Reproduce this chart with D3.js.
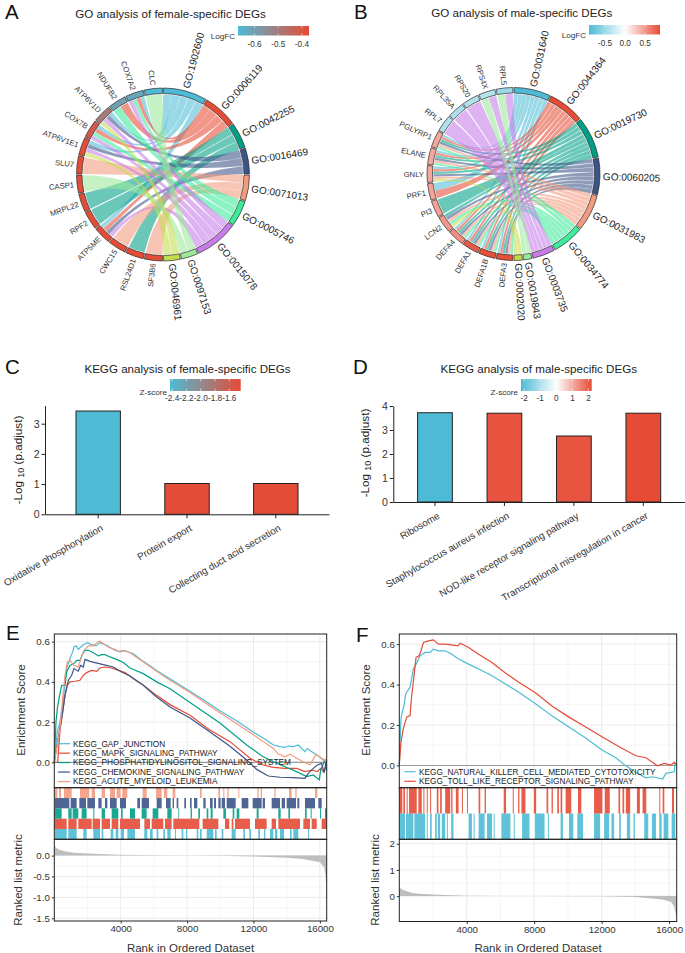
<!DOCTYPE html>
<html><head><meta charset="utf-8">
<script src="https://cdnjs.cloudflare.com/ajax/libs/d3/7.8.5/d3.min.js"></script>
<style>html,body{margin:0;padding:0;background:#fff}svg{display:block}text{font-family:"Liberation Sans",Arial,sans-serif}</style>
</head><body><div id="c"></div>
<script>
// ---------- data ----------
const termColors=["#4DBBD5","#E64B35","#00A087","#3C5488","#F39B7F","#3DEB9A","#C77CE8","#9BE89B","#C5DC4A"];
const termsA=["GO:1902600","GO:0006119","GO:0042255","GO:0016469","GO:0071013","GO:0005746","GO:0015078","GO:0097153","GO:0046961"];
const genesA=["SF3B6","RSL24D1","CWC15","ATP5ME","RPF2","MRPL22","CASP1","SLU7","ATP6V1E1","COX7B","ATP6V1D","NDUFB2","COX7A2","CLC"];
const linksA=[[4],[2],[4],[0,1,3,6],[2],[2],[7],[4],[0,3,6,8],[0,1,5,6],[0,3,6,8],[1,5],[0,1,5,6],[7]];
const fcA=[-0.375,-0.375,-0.375,-0.375,-0.375,-0.375,-0.375,-0.375,-0.38,-0.41,-0.5,-0.6,-0.62,-0.67];
const fcTicksA=[-0.6,-0.5,-0.4];
const termsB=["GO:0031640","GO:0044364","GO:0019730","GO:0060205","GO:0031983","GO:0034774","GO:0003735","GO:0019843","GO:0002020"];
const genesB=["DEFA3","DEFA1B","DEFA1","DEFA4","LCN2","PI3","PRF1","GNLY","ELANE","PGLYRP1","RPL7","RPL35A","RPS20","RPS4X","RPL5"];
const linksB=[[0,1,2,3,4,5],[0,1,2,3,4,5],[0,1,2,3,4,5],[0,1,2,3,4,5],[2,3,4,5,8],[2],[0,1],[0,1,2,3,4,8],[0,1,2,3,4,5],[0,1,2,3,4,5],[6],[6],[6],[6,7],[6,7]];
const fcB=[0.85,0.85,0.8,0.55,0.5,0.45,0.45,0.42,0.42,0.42,-0.4,-0.42,-0.4,-0.38,-0.5];
const fcTicksB=[-0.5,0,0.5];
const catsC=["Oxidative phosphorylation","Protein export","Collecting duct acid secretion"];
const valsC=[3.42,1.02,1.02];
const zC=[-2.42,-1.46,-1.46];
const zTicksC=[-2.4,-2.2,-2.0,-1.8,-1.6];
const catsD=["Ribosome","Staphylococcus aureus infection","NOD-like receptor signaling pathway","Transcriptional misregulation in cancer"];
const valsD=[3.72,3.70,2.75,3.70];
const zD=[-2.2,2.1,2.08,2.2];
const zTicksD=[-2,-1,0,1,2];
const setsE=["KEGG_GAP_JUNCTION","KEGG_MAPK_SIGNALING_PATHWAY","KEGG_PHOSPHATIDYLINOSITOL_SIGNALING_SYSTEM","KEGG_CHEMOKINE_SIGNALING_PATHWAY","KEGG_ACUTE_MYELOID_LEUKEMIA"];
const colorsE=["#4DBBD5","#E64B35","#00A087","#3C5488","#F39B7F"];
const esGap=[[1,0],[183,.154],[343,.2],[544,.317],[745,.466],[946,.516],[1106,.549],[1187,.574],[1307,.579],[1448,.562],[1709,.582],[1990,.595],[2251,.585],[2512,.579],[2753,.595],[3054,.585],[3355,.572],[3657,.557],[3958,.549],[4259,.555],[4761,.54],[5363,.502],[6167,.457],[6970,.416],[8175,.353],[9000,.31],[10000,.255],[11000,.205],[12000,.15],[12700,.115],[13200,.086],[13596,.078],[13897,.074],[14098,.081],[14400,.078],[14700,.086],[14900,.069],[15102,.053],[15242,.069],[15600,.048],[15900,.032],[16307,.003],[16410,0]];
const esMapk=[[1,0],[200,.0],[343,.154],[504,.25],[645,.333],[785,.383],[946,.4],[1247,.403],[1548,.408],[1749,.433],[1950,.446],[2251,.457],[2552,.452],[2753,.469],[3054,.474],[3456,.469],[3857,.457],[4259,.446],[4761,.416],[5363,.383],[6167,.333],[6970,.287],[8175,.234],[9300,.165],[10584,.103],[11789,.02],[12592,-.013],[13194,-.025],[13897,-.03],[14600,-.03],[15102,-.046],[15504,-.038],[15845,-.046],[16046,-.03],[16250,-.05],[16410,-.01]];
const esPhos=[[1,0],[102,.2],[183,.267],[303,.325],[444,.383],[645,.383],[745,.449],[946,.482],[1187,.491],[1347,.507],[1548,.507],[1709,.54],[1849,.557],[2050,.557],[2351,.545],[2653,.529],[2853,.535],[3054,.535],[3355,.524],[3757,.512],[4159,.496],[4560,.469],[5363,.441],[6167,.4],[6970,.366],[8175,.297],[10000,.194],[11588,.086],[12592,.028],[13194,.003],[13897,-.022],[14600,-.046],[15202,-.071],[15604,-.063],[15965,-.087],[16046,-.038],[16307,.011],[16410,-.04]];
const esChem=[[1,0],[303,.154],[504,.25],[645,.333],[845,.408],[1046,.433],[1187,.466],[1448,.453],[1588,.482],[1749,.474],[1849,.512],[2151,.502],[2452,.496],[2954,.486],[3556,.474],[4058,.449],[4560,.429],[5363,.383],[6167,.325],[6970,.275],[8175,.221],[9400,.15],[10584,.08],[11588,.012],[12190,-.035],[12893,-.068],[13596,-.074],[14400,-.076],[15102,-.08],[15300,-.055],[15604,-.03],[15845,-.013],[16106,-.005],[16247,-.05],[16407,.01]];
const esAml=[[1,0],[343,.167],[504,.317],[645,.433],[785,.499],[946,.507],[1187,.482],[1448,.474],[1649,.524],[1789,.557],[2050,.579],[2351,.579],[2653,.599],[2753,.602],[3054,.585],[3355,.569],[3657,.562],[3857,.552],[4159,.555],[4560,.545],[5363,.499],[6167,.453],[6970,.408],[8175,.347],[10000,.245],[11588,.16],[12592,.103],[13194,.069],[13496,.041],[13897,.028],[14198,.041],[14600,.02],[15002,.003],[15403,-.013],[15765,.041],[16106,.02],[16407,.003]];
const curvesE=[esGap,esMapk,esPhos,esChem,esAml];
const hitsGap=[[42,745],[845,1347],[1749,1950],[2351,2753],[2853,2954],[3395,3556],[3697,3857],[3998,4199],[4400,4861],[5424,5605],[5765,5926],[6167,6267],[6568,6669],[6809,7010],[7271,7331],[7672,7773],[7933,8014],[8577,8677],[8777,8878],[9179,9581],[9681,9781],[10083,10183],[10685,10926],[11388,11488],[11749,11850],[12291,12391],[12633,12713],[12994,13195],[13295,13436],[13597,13838],[14199,14299],[14400,14701],[15280,15340]];
const hitsMapk=[[2,745],[845,1347],[1448,2251],[2311,2753],[2853,3355],[3456,3857],[3958,5163],[5424,5765],[5865,6568],[6669,7070],[7170,8737],[8938,9882],[10283,10544],[10685,10786],[10886,11789],[12091,12793],[13095,13356],[13496,14801],[15002,15404],[15504,15806],[16107,16408]];
const hitsPhos=[[2,444],[845,1046],[1106,1448],[1649,1950],[2351,2412],[2853,3054],[3456,3857],[4018,4118],[4560,4861],[5263,5564],[5926,6267],[6809,7070],[7472,7512],[8215,8295],[8677,8777],[9179,9279],[9420,9540],[10183,10344],[10745,10846],[10986,11147],[12191,12311],[13496,13637],[14099,14199],[15102,15203],[15444,15504],[16006,16066],[16307,16408]];
const hitsChem=[[42,906],[986,1347],[1508,1910],[1990,2452],[2653,2853],[3054,3195],[3355,3757],[3958,4319],[5002,5163],[5263,5705],[6167,6468],[6729,7010],[7130,7211],[7371,7472],[7833,7934],[8175,8275],[8416,8617],[8978,9119],[9380,9540],[9621,9741],[9882,10022],[10083,10283],[10384,10926],[11287,11689],[11950,12492],[12553,12693],[13095,13596],[13697,13898],[13998,14560],[14640,14761],[15102,15705],[15906,16107]];
const hitsAml=[[42,183],[283,404],[584,1046],[1548,2110],[2251,2452],[2853,3054],[3355,3657],[3757,3998],[4098,4400],[5323,5564],[6126,6468],[6608,6809],[7130,7291],[8777,8878],[9882,9982],[10183,10243],[10424,10504],[11087,11147],[12231,12311],[12432,12512],[13255,13335],[14139,14299],[14520,14600],[15705,15846]];
const hitsE=[hitsGap,hitsMapk,hitsPhos,hitsChem,hitsAml];
const metricE=[[1,.27],[100,.19],[300,.14],[700,.1],[1200,.07],[2000,.05],[4000,.02],[6000,.007],[8000,0],[10000,-.005],[12000,-.02],[14000,-.05],[15000,-.08],[16000,-.16],[16250,-.28],[16350,-.5],[16400,-1.1],[16410,-1.5]];
const setsF=["KEGG_NATURAL_KILLER_CELL_MEDIATED_CYTOTOXICITY","KEGG_TOLL_LIKE_RECEPTOR_SIGNALING_PATHWAY"];
const colorsF=["#4DBBD5","#E64B35"];
const esNk=[[1,.002],[101,.231],[180,.264],[300,.305],[379,.354],[637,.387],[835,.477],[1034,.506],[1232,.542],[1530,.559],[1827,.559],[2026,.575],[2323,.567],[2720,.567],[3117,.55],[3514,.526],[4109,.501],[4803,.473],[5498,.444],[6291,.403],[7085,.362],[8077,.305],[9069,.244],[10060,.19],[11053,.136],[12044,.075],[12839,.038],[13434,-.002],[14028,-.034],[14624,-.061],[15021,-.056],[15616,-.067],[15814,-.039],[16310,-.031],[16350,.015]];
const esTlr=[[1,.002],[101,.116],[240,.182],[438,.239],[637,.247],[736,.346],[875,.444],[994,.534],[1172,.542],[1291,.567],[1430,.608],[1728,.616],[2026,.621],[2323,.6],[2720,.6],[3216,.595],[3474,.591],[3613,.604],[4109,.583],[4704,.55],[5498,.509],[6291,.457],[7085,.411],[8077,.359],[9069,.293],[10060,.239],[11053,.19],[12044,.141],[13037,.092],[14028,.048],[14624,.038],[15318,-.002],[15715,.01],[16112,.002],[16310,.015],[16450,.002]];
const curvesF=[esNk,esTlr];
const hitsNk=[[2,339],[399,835],[895,1530],[1629,1688],[1827,1926],[2125,2224],[2284,2422],[2522,2720],[2819,2879],[3077,3216],[4109,4307],[4406,4466],[4704,5061],[5200,5498],[5597,5656],[6053,6589],[6787,6847],[7283,7720],[8037,8613],[8811,8871],[9565,9704],[10061,10319],[10557,10895],[11549,11906],[12145,12442],[12581,12740],[13037,13137],[13494,13692],[13890,13970],[14525,14764],[14982,15220],[15418,15557],[15676,15954],[16152,16370]];
const hitsTlr=[[2,180],[240,339],[438,498],[577,1034],[1133,1331],[1430,1490],[1629,1688],[1827,1887],[2224,2323],[2422,2522],[2720,3018],[3077,3156],[3355,3514],[3712,3772],[4010,4069],[4704,4803],[5061,5140],[6192,6331],[6728,6787],[7045,7124],[7243,7482],[7977,8116],[8732,8831],[9030,9109],[9367,9466],[9565,9665],[9863,10200],[10597,10795],[11549,12045],[12184,12482],[12998,13097],[13236,13335],[13434,13692],[14089,14267],[14426,14645],[15418,15478],[15616,15716],[16172,16291]];
const hitsF=[hitsNk,hitsTlr];
const metricF=[[1,.36],[100,.28],[240,.23],[700,.13],[1200,.09],[2000,.06],[4000,.015],[8000,0],[12000,-.01],[14000,-.03],[15600,-.13],[16100,-.22],[16300,-.4],[16400,-.7],[16450,-.97]];
const rankTicks=[4000,8000,12000,16000];

// ---------- drawing ----------
const W=685,H=953,BLUE="#4DBBD5",RED="#E64B35",INK="#222",TXT="#333";
const svg=d3.select("#c").append("svg").attr("width",W).attr("height",H).attr("viewBox",[0,0,W,H]);
const defs=svg.append("defs");
let gid=0;
const hy=f=>v=>f(v).replace("\u2212","-");

function letter(t,x,y){svg.append("text").attr("x",x).attr("y",y).attr("font-size",20.5).attr("fill","#111").text(t);}
function title(t,cx,y,fs){svg.append("text").attr("x",cx).attr("y",y).attr("text-anchor","middle").attr("font-size",fs).attr("fill",INK).text(t);}

function colorbar(label,x0,x1,y0,y1,scale,ticks,fmt,labY){
  const id="g"+(gid++),dom=scale.domain();
  const bar=d3.scaleLinear().domain([dom[0],dom[dom.length-1]]).range([x0,x1]);
  const lg=defs.append("linearGradient").attr("id",id);
  d3.range(0,1.0001,0.05).forEach(t=>lg.append("stop").attr("offset",t).attr("stop-color",scale(bar.invert(x0+t*(x1-x0)))));
  svg.append("rect").attr("x",x0).attr("y",y0).attr("width",x1-x0).attr("height",y1-y0).attr("fill",`url(#${id})`);
  ticks.forEach(t=>{
    const x=bar(t),s=(y1-y0)/5;
    svg.append("path").attr("d",`M${x},${y0}v${s}M${x},${y1}v${-s}`).attr("stroke","#fff").attr("stroke-width",.6);
    svg.append("text").attr("x",x).attr("y",labY).attr("text-anchor","middle").attr("dy",".35em").attr("font-size",8.2).attr("fill",TXT).text(fmt(t));
  });
  svg.append("text").attr("x",x0-3).attr("y",y1+1).attr("text-anchor","end").attr("dy",".35em").attr("font-size",8.1).attr("fill",TXT).text(label);
}

function chord(cx,cy,terms,genes,links,fc,fcScale){
  const g=svg.append("g").attr("transform",`translate(${cx},${cy})`);
  const R1=86.5,R0=81,Rb=80;
  const counts=terms.map((_,i)=>d3.sum(links,l=>l.includes(i)?1:0));
  const total=d3.sum(counts),unit=Math.PI/total,gw=Math.PI/genes.length;
  const pad=0.007;
  const tStart=[];let acc=0;counts.forEach(c=>{tStart.push(acc);acc+=c*unit;});
  const termCursor=tStart.slice();
  const ribs=[];
  const assign={};
  for(let j=genes.length-1;j>=0;j--){
    links[j].forEach(i=>{assign[i+"_"+j]=termCursor[i];termCursor[i]+=unit;});
  }
  genes.forEach((_,j)=>{
    const s=Math.PI+j*gw,inner=links[j].slice().sort((a,b)=>b-a),w=(gw-2*pad)/inner.length;
    inner.forEach((i,k)=>{
      ribs.push({i,source:{startAngle:assign[i+"_"+j]+0.002,endAngle:assign[i+"_"+j]+unit-0.002,radius:Rb},
        target:{startAngle:s+pad+k*w,endAngle:s+pad+(k+1)*w-0.002,radius:Rb}});
    });
  });
  const ribbon=d3.ribbon();
  ribs.sort((a,b)=>a.i-b.i);
  g.append("g").selectAll("path").data(ribs).join("path").attr("d",ribbon).attr("fill",d=>termColors[d.i]).attr("fill-opacity",.58);
  const arc=d3.arc().innerRadius(R0).outerRadius(R1);
  const seg=(a,b,c)=>g.append("path").attr("d",arc({startAngle:a+pad,endAngle:b-pad})).attr("fill",c).attr("stroke","#2a2a2a").attr("stroke-width",.7);
  const deg=a=>a*180/Math.PI;
  const lab=(t,a,fs,col,r)=>{
    const d=deg(a),right=d<180;
    g.append("text").attr("transform",`rotate(${d-90}) translate(${r},0)`+(right?"":" rotate(180)"))
     .attr("text-anchor",right?"start":"end").attr("dy",".35em").attr("font-size",fs).attr("fill",col).text(t);
  };
  terms.forEach((t,i)=>{seg(tStart[i],tStart[i]+counts[i]*unit,termColors[i]);lab(t,tStart[i]+counts[i]*unit/2,10,INK,R1+3);});
  genes.forEach((t,j)=>{const s=Math.PI+j*gw;seg(s,s+gw,fcScale(fc[j]));lab(t,s+gw/2,7.7,TXT,R1+3);});
}

function barChart(cats,vals,zs,zScale,x0,x1,yZero,yTop,maxV,ticks,labX,labCy,pi,po){
  const x=d3.scaleBand().domain(cats).range([x0,x1]).paddingInner(pi).paddingOuter(po);
  const y=d3.scaleLinear().domain([0,maxV]).range([yZero,yTop]);
  svg.append("g").selectAll("rect").data(cats).join("rect")
    .attr("x",d=>x(d)).attr("width",x.bandwidth())
    .attr("y",(d,i)=>y(vals[i])).attr("height",(d,i)=>yZero-y(vals[i]))
    .attr("fill",(d,i)=>zScale(zs[i])).attr("stroke","#222").attr("stroke-width",1);
  const ax=svg.append("g").attr("transform",`translate(0,${yZero})`).call(d3.axisBottom(x).tickSize(4).tickPadding(3).tickSizeOuter(0));
  ax.select(".domain").attr("stroke","#222");ax.selectAll("line").attr("stroke","#222");
  ax.selectAll("text").attr("font-size",9.8).attr("font-family",'"Liberation Sans"').attr("fill",TXT).attr("text-anchor","end")
    .attr("transform","rotate(-30)").attr("x",-3).attr("y",13).attr("dy",".35em");
  const ay=svg.append("g").attr("transform",`translate(${x0},0)`).call(d3.axisLeft(y).tickValues(ticks).tickFormat(d3.format("d")).tickSize(3.5).tickPadding(2).tickSizeOuter(0));
  ay.select(".domain").attr("stroke","#222");ay.selectAll("line").attr("stroke","#222");
  ay.selectAll("text").attr("font-size",10.5).attr("font-family",'"Liberation Sans"').attr("fill",TXT);
  const t=svg.append("text").attr("transform",`translate(${labX},${labCy}) rotate(-90)`).attr("text-anchor","middle").attr("font-size",11.7).attr("fill",INK);
  t.append("tspan").text("-Log ");t.append("tspan").attr("font-size",9).attr("dy",2).text("10");t.append("tspan").attr("dy",-2).text(" (p.adjust)");
}

function gsea(px0,px1,xMax,yPlot,yRug,yBot,yEnd,esDom,esTicks,mDom,mTicks,mFmt,sets,colors,curves,hits,metric,legY,legX,legLine){
  const x=d3.scaleLinear().domain([1,xMax]).range([px0,px1]);
  const y=d3.scaleLinear().domain(esDom).range([yPlot,yRug]);
  const m=d3.scaleLinear().domain(mDom).range([yBot,yEnd]);
  const g=svg.append("g");
  const vGrid=d3.range(2000,16001,2000);
  function grid(yy,yTop,yBtm,maj,min){
    vGrid.forEach((v,i)=>g.append("line").attr("x1",x(v)).attr("x2",x(v)).attr("y1",yTop).attr("y2",yBtm).attr("stroke",i%2?"#ebebeb":"#f1f1f1").attr("stroke-width",i%2?1:.7));
    min.forEach(v=>g.append("line").attr("x1",px0).attr("x2",px1).attr("y1",yy(v)).attr("y2",yy(v)).attr("stroke","#f1f1f1").attr("stroke-width",.7));
    maj.forEach(v=>g.append("line").attr("x1",px0).attr("x2",px1).attr("y1",yy(v)).attr("y2",yy(v)).attr("stroke","#ebebeb").attr("stroke-width",1));
  }
  const mids=a=>d3.pairs(a).map(p=>(p[0]+p[1])/2);
  grid(y,yPlot,yRug,esTicks,mids(esTicks).concat([esTicks[0]-(esTicks[1]-esTicks[0])/2]).filter(v=>v>esDom[1]));
  grid(m,yBot,yEnd,mTicks,mids(mTicks));
  g.append("line").attr("x1",px0).attr("x2",px1).attr("y1",y(0)).attr("y2",y(0)).attr("stroke","#9a9a9a").attr("stroke-width",1.1);
  const line=d3.line().x(d=>x(d[0])).y(d=>y(d[1]));
  curves.forEach((c,i)=>g.append("path").attr("d",line(c)).attr("fill","none").attr("stroke",colors[i]).attr("stroke-width",1.2));
  sets.forEach((s,i)=>{
    const ly=legY[0]+i*legY[1];
    g.append("line").attr("x1",legLine[0]).attr("x2",legLine[1]).attr("y1",ly).attr("y2",ly).attr("stroke",colors[i]).attr("stroke-width",1.2);
    g.append("text").attr("x",legX).attr("y",ly).attr("dy",".35em").attr("font-size",8.25).attr("fill",INK).text(s);
  });
  const n=sets.length,rh=(yBot-yRug)/n;
  hits.forEach((h,i)=>{
    const ry=yRug+(n-1-i)*rh;
    g.append("g").selectAll("rect").data(h).join("rect").attr("x",d=>x(d[0])).attr("width",d=>Math.max(.8,x(d[1])-x(d[0])))
      .attr("y",ry).attr("height",rh).attr("fill",colors[i]).attr("fill-opacity",.9);
  });
  const area=d3.area().x(d=>x(d[0])).y0(m(0)).y1(d=>m(d[1]));
  g.append("path").attr("d",area(metric)).attr("fill","#bebebe");
  [[yPlot,yRug],[yRug,yBot],[yBot,yEnd]].forEach(r=>g.append("rect").attr("x",px0).attr("y",r[0]).attr("width",px1-px0).attr("height",r[1]-r[0]).attr("fill","none").attr("stroke","#222").attr("stroke-width",1));
  const ax=svg.append("g").attr("transform",`translate(0,${yEnd})`).call(d3.axisBottom(x).tickValues(rankTicks).tickFormat(d3.format("d")).tickSize(2.5).tickPadding(2));
  ax.select(".domain").remove();
  const ay=svg.append("g").attr("transform",`translate(${px0},0)`).call(d3.axisLeft(y).tickValues(esTicks).tickFormat(d3.format(".1f")).tickSize(2.5).tickPadding(2));
  ay.select(".domain").remove();
  const am=svg.append("g").attr("transform",`translate(${px0},0)`).call(d3.axisLeft(m).tickValues(mTicks).tickFormat(hy(mFmt)).tickSize(2.5).tickPadding(2));
  am.select(".domain").remove();
  [ax,ay,am].forEach(a=>{a.selectAll("text").attr("font-size",9.7).attr("font-family",'"Liberation Sans"').attr("fill",TXT);a.selectAll("line").attr("stroke","#333");});
  svg.append("text").attr("x",(px0+px1)/2).attr("y",951.5).attr("text-anchor","middle").attr("font-size",11.5).attr("fill",TXT).text("Rank in Ordered Dataset");
}
function yLab(t,x,cy){svg.append("text").attr("transform",`translate(${x},${cy}) rotate(-90)`).attr("text-anchor","middle").attr("font-size",11.5).attr("fill",TXT).text(t);}

// A
letter("A",5,18.6);title("GO analysis of female-specific DEGs",170.5,17.5,11.6);
const fcScaleA=d3.scaleLinear().domain([-0.67,-0.37]).range([BLUE,RED]);
colorbar("LogFC",238,309,26,35.5,fcScaleA,fcTicksA,hy(d3.format(".1f")),44);
chord(163,174.5,termsA,genesA,linksA,fcA,fcScaleA);
// B
letter("B",354,18.6);title("GO analysis of male-specific DEGs",521.7,17,11.6);
const fcScaleB=d3.scaleLinear().domain([-0.9,0,0.87]).range([BLUE,"#ffffff",RED]);
colorbar("LogFC",589,660,25,34.5,fcScaleB,fcTicksB,hy(d3.format(".1f")),43);
chord(513.5,174,termsB,genesB,linksB,fcB,fcScaleB);
// C
letter("C",5,373.5);title("KEGG analysis of female-specific DEGs",187.5,373,11.6);
const zScaleC=d3.scaleLinear().domain([-2.43,-1.44]).range([BLUE,RED]);
colorbar("Z-score",170,240.7,379,391,zScaleC,zTicksC,hy(d3.format(".1f")),398);
barChart(catsC,valsC,zC,zScaleC,45,329,514.3,405.6,3.6,[0,1,2,3],22,460,.5,.349);
// D
letter("D",353,373.5);title("KEGG analysis of male-specific DEGs",538.8,373,11.6);
const zScaleD=d3.scaleLinear().domain([-2.2,0,2.2]).range([BLUE,"#ffffff",RED]);
colorbar("Z-score",521,591.7,379,391,zScaleD,zTicksD,hy(d3.format("d")),398);
barChart(catsD,valsD,zD,zScaleD,393.3,685,502,406,4,[0,1,2,3,4],369,453,.5,.35);
// E
letter("E",6,640);
gsea(54.3,326.7,16410,634,787.7,839.3,921,[.638,-.126],[0,.2,.4,.6],[.39,-1.565],[-1.5,-1,-.5,0],d3.format(".1f"),setsE,colorsE,curvesE,hitsE,metricE,[743.7,9.45],73,[58,70]);
yLab("Enrichment Score",25,710);yLab("Ranked list metric",22,880);
// F
letter("F",356,642);
gsea(399.3,676.7,16450,634,787.7,839.3,921.5,[.65,-.11],[0,.2,.4,.6],[2.17,-.97],[0,1,2],d3.format("d"),setsF,colorsF,curvesF,hitsF,metricF,[771.7,9.6],419,[404.3,415.7]);
yLab("Enrichment Score",370,710);yLab("Ranked list metric",379,880);
</script></body></html>
